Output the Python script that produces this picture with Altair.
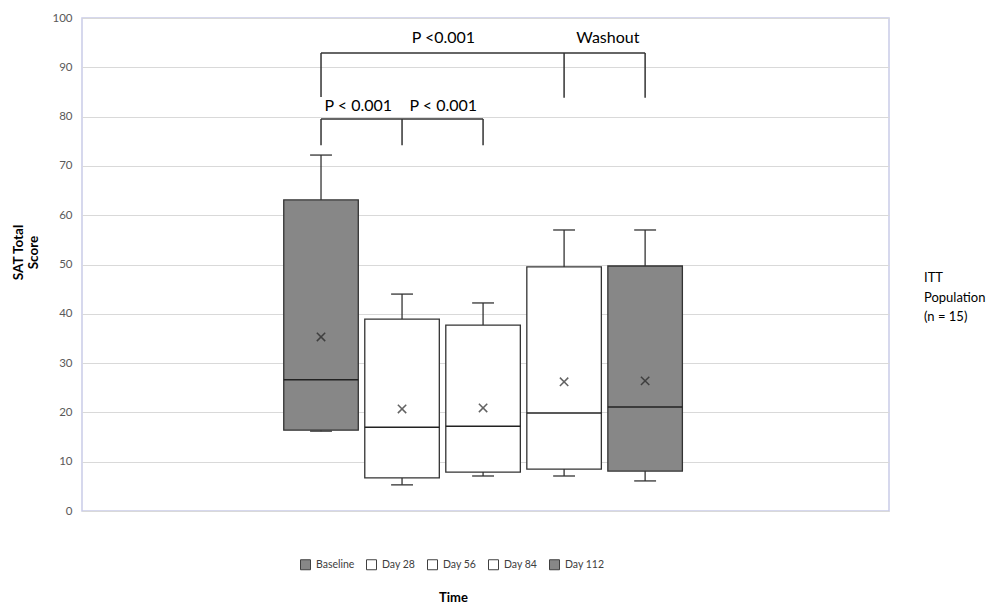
import altair as alt
import pandas as pd

# ---- data ----
groups = ["Baseline", "Day 28", "Day 56", "Day 84", "Day 112"]
positions = [1, 2, 3, 4, 5]
q1 = [16.4, 6.7, 7.9, 8.5, 8.1]
median = [26.6, 17.0, 17.2, 19.9, 21.1]
q3 = [63.1, 38.9, 37.7, 49.5, 49.7]
wmin = [16.2, 5.3, 7.1, 7.1, 6.1]
wmax = [72.2, 44.0, 42.2, 57.0, 57.0]
mean = [35.3, 20.7, 20.9, 26.2, 26.4]
fills = ["#878787", "#ffffff", "#ffffff", "#ffffff", "#878787"]

# significance brackets (segments in data units)
seg_x1 = [1, 1, 4, 5, 1, 1, 2, 3]
seg_x2 = [5, 1, 4, 5, 3, 1, 2, 3]
seg_y1 = [92.9, 84.0, 83.8, 83.8, 79.5, 74.2, 74.2, 74.2]
seg_y2 = [92.9, 92.9, 92.9, 92.9, 79.5, 79.5, 79.5, 79.5]

ann_text = ["P <0.001", "Washout", "P < 0.001", "P < 0.001"]
ann_x = [2.51, 4.54, 1.46, 2.51]
ann_y = [96.0, 96.0, 82.2, 82.2]

y_ticks = [0, 10, 20, 30, 40, 50, 60, 70, 80, 90, 100]

FONT = "Lato"

df = pd.DataFrame({
    "group": groups, "pos": positions, "q1": q1, "median": median, "q3": q3,
    "wmin": wmin, "wmax": wmax, "mean": mean,
})
segs = pd.DataFrame({"x1": seg_x1, "x2": seg_x2, "y1": seg_y1, "y2": seg_y2})
ann = pd.DataFrame({"t": ann_text, "x": ann_x, "y": ann_y})

xscale = alt.Scale(domain=[-1.95, 8.01], nice=False, zero=False)
yscale = alt.Scale(domain=[0, 100], nice=False)

xaxis = alt.Axis(labels=False, ticks=False, domain=False, grid=False, title="Time",
                 titleFont=FONT, titleFontSize=13, titleFontWeight="bold", titleColor="#000000",
                 titleX=371, titleY=86, titleBaseline="middle", titleAnchor="start", titleAlign="center")
yaxis = alt.Axis(values=y_ticks, ticks=False, domain=False, grid=True, gridColor="#d9d9d9",
                 labelPadding=10, labelColor="#595959", labelFont=FONT, labelFontSize=11.5,
                 title=["SAT Total", "Score"], titleFont=FONT, titleFontSize=13.5,
                 titleFontWeight="bold", titleColor="#000000", titleX=-64, titleY=234,
                 titleAlign="center", titleBaseline="middle", titleLineHeight=15)

base = alt.Chart(df).transform_calculate(
    xl="datum.pos - 0.46", xr="datum.pos + 0.46",
    cl="datum.pos - 0.135", cr="datum.pos + 0.135",
)

whisk_up = base.mark_rule(color="#333333", strokeWidth=1.3).encode(
    x=alt.X("pos:Q", scale=xscale, axis=xaxis),
    y=alt.Y("q3:Q", scale=yscale, axis=yaxis), y2="wmax:Q")
whisk_lo = base.mark_rule(color="#333333", strokeWidth=1.3).encode(
    x=alt.X("pos:Q", scale=xscale), y=alt.Y("wmin:Q", scale=yscale), y2="q1:Q")
cap_up = base.mark_rule(color="#333333", strokeWidth=1.3).encode(
    x=alt.X("cl:Q", scale=xscale), x2="cr:Q", y=alt.Y("wmax:Q", scale=yscale))
cap_lo = base.mark_rule(color="#333333", strokeWidth=1.3).encode(
    x=alt.X("cl:Q", scale=xscale), x2="cr:Q", y=alt.Y("wmin:Q", scale=yscale))

boxes = base.mark_rect(stroke="#333333", strokeWidth=1.3).encode(
    x=alt.X("xl:Q", scale=xscale), x2="xr:Q",
    y=alt.Y("q1:Q", scale=yscale), y2="q3:Q",
    fill=alt.Fill("group:N", scale=alt.Scale(domain=groups, range=fills),
                  sort=groups, legend=alt.Legend(title=None)))
med = base.mark_rule(color="#222222", strokeWidth=1.5).encode(
    x=alt.X("xl:Q", scale=xscale), x2="xr:Q", y=alt.Y("median:Q", scale=yscale))
means = base.mark_point(shape="M-1,-1L1,1M-1,1L1,-1", size=70, filled=False,
                        color="#222222", strokeWidth=1.5).encode(
    x=alt.X("pos:Q", scale=xscale), y=alt.Y("mean:Q", scale=yscale))

brackets = alt.Chart(segs).mark_rule(color="#333333", strokeWidth=1.5).encode(
    x=alt.X("x1:Q", scale=xscale), x2="x2:Q",
    y=alt.Y("y1:Q", scale=yscale), y2="y2:Q")
labels = alt.Chart(ann).mark_text(font=FONT, fontSize=16, color="#000000",
                                  align="center", baseline="middle").encode(
    x=alt.X("x:Q", scale=xscale), y=alt.Y("y:Q", scale=yscale), text="t:N")

itt = alt.Chart(pd.DataFrame({"k": [0]})).mark_text(
    font=FONT, fontSize=13, color="#000000", align="left", baseline="middle",
    lineHeight=19.5).encode(
    x=alt.value(842), y=alt.value(260),
    text=alt.value(["ITT", "Population", "(n = 15)"]))

chart = alt.layer(whisk_up, whisk_lo, cap_up, cap_lo, boxes, med, means,
                  brackets, labels, itt).properties(
    width=807, height=493,
    autosize=alt.AutoSizeParams(type="none"),
    padding={"left": 74, "top": 10, "right": 97, "bottom": 96},
).configure_view(
    stroke="#c9cbe8", strokeWidth=1.5
).configure_legend(
    orient="none", legendX=218, legendY=541, direction="horizontal",
    symbolType="square", symbolSize=100, symbolStrokeColor="#404040",
    symbolStrokeWidth=1, labelFont=FONT, labelFontSize=10.5, labelColor="#404040",
    columnPadding=9, labelOffset=5,
)

chart.save("out.html", embed_options={"renderer": "svg", "actions": False})
